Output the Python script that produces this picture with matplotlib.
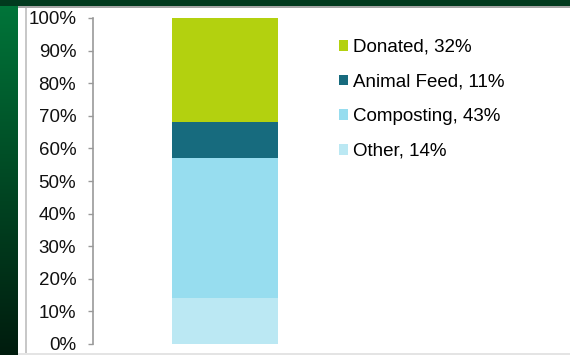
import numpy as np
import matplotlib
matplotlib.use("Agg")
import matplotlib.pyplot as plt
from matplotlib.patches import Rectangle

# segments, bottom to top
categories = ["Other", "Composting", "Animal Feed", "Donated"]
shares = [14, 43, 11, 32]
colors = ["#BBE8F3", "#97DDEF", "#176B7E", "#B3D10F"]
yticks = list(range(0, 101, 10))

plt.rcParams["font.family"] = ["Liberation Sans", "DejaVu Sans"]

W, H = 570, 355
fig = plt.figure(figsize=(W / 100, H / 100), dpi=100)
fig.patch.set_facecolor("white")

# slide background: green gradient strip on the left, dark band on top
bg = fig.add_axes([0, 0, 18 / W, 1])
grad = np.linspace(0, 1, 256).reshape(-1, 1)
top, bot = np.array([0, 118, 58]) / 255, np.array([0, 28, 14]) / 255
img = (1 - grad)[..., None] * top + grad[..., None] * bot
bg.imshow(img, aspect="auto", extent=[0, 1, 0, 1])
bg.axis("off")
fig.add_artist(Rectangle((0, 1 - 5.5 / H), 1, 5.5 / H, transform=fig.transFigure,
                         color="#013A1E", lw=0))
fig.add_artist(Rectangle((18 / W, 1 - 7.5 / H), 1, 2 / H, transform=fig.transFigure,
                         color="#A6A6A6", lw=0))
fig.add_artist(Rectangle((25 / W, 0), 1.5 / W, 1 - 7.5 / H, transform=fig.transFigure,
                         color="#C8C8C8", lw=0))
fig.add_artist(Rectangle((18 / W, 0), 1, 2 / H, transform=fig.transFigure,
                         color="#E4E4E4", lw=0))

ax = fig.add_axes([93 / W, (H - 344) / H, 264 / W, 326 / H])
bottom = 0
handles = []
for cat, val, col in zip(categories, shares, colors):
    b = ax.bar(0, val, 0.4, bottom=bottom, color=col, label=f"{cat}, {val}%")
    handles.append(b)
    bottom += val

ax.set_xlim(-0.5, 0.5)
ax.set_ylim(0, 100)
ax.set_yticks(yticks)
ax.set_yticklabels([f"{t}%" for t in yticks])
ax.set_xticks([])
for s in ["top", "right", "bottom"]:
    ax.spines[s].set_visible(False)
ax.spines["left"].set_color("#999999")
ax.spines["left"].set_linewidth(1.2)
ax.tick_params(axis="y", length=3.6, width=1, color="#999999", labelsize=13.5,
               labelcolor="#111111", pad=8.5)
ax.set_facecolor("none")

fig.legend(handles[::-1], [h.get_label() for h in handles[::-1]],
           loc="upper left", bbox_to_anchor=(339 / W, 1 - 39 / H),
           frameon=False, fontsize=13.5, handlelength=0.5, handleheight=0.5,
           handletextpad=0.25, labelspacing=0.94, borderaxespad=0,
           borderpad=0)

fig.savefig("out.png", dpi=100)
